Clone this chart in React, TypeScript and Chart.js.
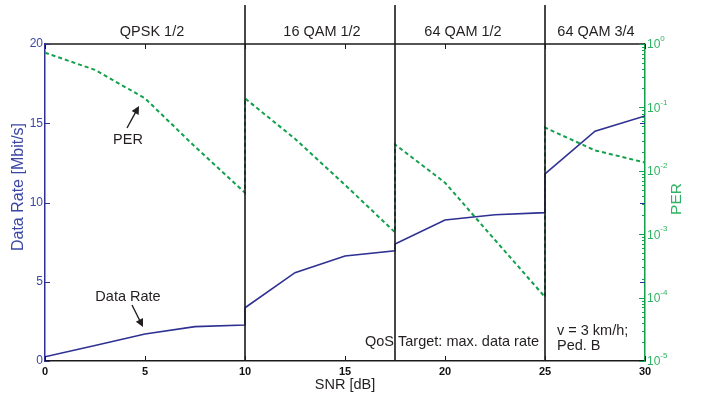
import React, { useEffect, useRef } from "react";
import { Chart, registerables } from "chart.js";

Chart.register(...registerables);

// SNR [dB] sample points (duplicated x where the modulation scheme switches)
const snr = [0, 2.5, 5, 7.5, 10, 10, 12.5, 15, 17.5, 17.5, 20, 22.5, 25, 25, 27.5, 30];
// Data rate [Mbit/s]
const dataRate = [0.27, 0.98, 1.7, 2.17, 2.27, 3.36, 5.57, 6.62, 6.96, 7.38, 8.9, 9.23, 9.36, 11.8, 14.5, 15.46];
// Packet error ratio
const per = [0.73, 0.39, 0.139, 0.024, 0.0045, 0.139, 0.032, 0.006, 0.00107, 0.026, 0.0065, 0.00081, 0.000102, 0.048, 0.021, 0.0135];

const switchPoints = [10, 17.5, 25];
const modeLabels = ["QPSK 1/2", "16 QAM 1/2", "64 QAM 1/2", "64 QAM 3/4"];
const modeLabelX = [5.35, 13.85, 20.9, 27.55];
const xTicks = [0, 5, 10, 15, 20, 25, 30];
const leftTicks = [0, 5, 10, 15, 20];
const perExponents = [0, -1, -2, -3, -4, -5];

const BLUE = "#2e3192";
const BLUE_TXT = "#3b47a3";
const GREEN = "#12a04c";
const GREEN_TXT = "#2fb463";
const TXT = "#231f20";
const FONT = "'Liberation Sans', Arial, Helvetica, sans-serif";

function arrow(ctx: CanvasRenderingContext2D, x1: number, y1: number, x2: number, y2: number) {
  const ang = Math.atan2(y2 - y1, x2 - x1);
  const hl = 8;
  const hw = 4;
  ctx.save();
  ctx.strokeStyle = TXT;
  ctx.fillStyle = TXT;
  ctx.lineWidth = 1.4;
  ctx.beginPath();
  ctx.moveTo(x1, y1);
  ctx.lineTo(x2 - Math.cos(ang) * hl * 0.8, y2 - Math.sin(ang) * hl * 0.8);
  ctx.stroke();
  ctx.beginPath();
  ctx.moveTo(x2, y2);
  ctx.lineTo(x2 - Math.cos(ang) * hl + Math.sin(ang) * hw, y2 - Math.sin(ang) * hl - Math.cos(ang) * hw);
  ctx.lineTo(x2 - Math.cos(ang) * hl - Math.sin(ang) * hw, y2 - Math.sin(ang) * hl + Math.cos(ang) * hw);
  ctx.closePath();
  ctx.fill();
  ctx.restore();
}

const decorPlugin = {
  id: "decor",
  afterDraw(chart: any) {
    const ctx: CanvasRenderingContext2D = chart.ctx;
    const { left, right, top, bottom } = chart.chartArea;
    const x = chart.scales.x;
    const y = chart.scales.y;
    const y2 = chart.scales.y2;
    ctx.save();

    // top border
    ctx.strokeStyle = "#1a1a1a";
    ctx.lineWidth = 1.5;
    ctx.beginPath();
    ctx.moveTo(left, top);
    ctx.lineTo(right, top);
    ctx.stroke();

    // x ticks (inner, top and bottom)
    ctx.lineWidth = 1;
    xTicks.forEach((v) => {
      const px = Math.round(x.getPixelForValue(v)) + 0.5;
      ctx.beginPath();
      ctx.moveTo(px, bottom);
      ctx.lineTo(px, bottom - 5);
      ctx.moveTo(px, top);
      ctx.lineTo(px, top + 5);
      ctx.stroke();
    });

    // left axis ticks (blue), mirrored on right
    ctx.strokeStyle = BLUE;
    leftTicks.forEach((v) => {
      const py = Math.round(y.getPixelForValue(v)) + 0.5;
      ctx.beginPath();
      ctx.moveTo(left, py);
      ctx.lineTo(left + 5, py);
      ctx.moveTo(right, py);
      ctx.lineTo(right - 5, py);
      ctx.stroke();
    });

    // right log axis ticks (green)
    ctx.strokeStyle = GREEN;
    perExponents.forEach((e) => {
      const py = Math.round(y2.getPixelForValue(Math.pow(10, e))) + 0.5;
      ctx.beginPath();
      ctx.moveTo(right, py);
      ctx.lineTo(right - 6, py);
      ctx.stroke();
      if (e > -5) {
        for (let m = 2; m <= 9; m++) {
          const pm = Math.round(y2.getPixelForValue(m * Math.pow(10, e - 1))) + 0.5;
          ctx.beginPath();
          ctx.moveTo(right, pm);
          ctx.lineTo(right - 3, pm);
          ctx.stroke();
        }
      }
    });

    // right tick labels 10^e
    ctx.fillStyle = GREEN_TXT;
    ctx.textBaseline = "middle";
    ctx.textAlign = "left";
    perExponents.forEach((e) => {
      const py = y2.getPixelForValue(Math.pow(10, e));
      ctx.font = `12px ${FONT}`;
      ctx.fillText("10", right + 2, py + 1);
      const w = ctx.measureText("10").width;
      ctx.font = `8px ${FONT}`;
      ctx.fillText(e === 0 ? "0" : "-" + Math.abs(e), right + 2 + w, py - 5);
    });

    // switching lines
    ctx.strokeStyle = "#1a1a1a";
    ctx.lineWidth = 1.6;
    switchPoints.forEach((v) => {
      const px = x.getPixelForValue(v);
      ctx.beginPath();
      ctx.moveTo(px, 5);
      ctx.lineTo(px, bottom);
      ctx.stroke();
    });

    // mode labels
    ctx.fillStyle = TXT;
    ctx.font = `14.5px ${FONT}`;
    ctx.textAlign = "center";
    ctx.textBaseline = "middle";
    modeLabels.forEach((t, i) => {
      ctx.fillText(t, x.getPixelForValue(modeLabelX[i]), 32);
    });

    // axis titles
    ctx.font = `14.5px ${FONT}`;
    ctx.fillText("SNR [dB]", (left + right) / 2, 385);
    ctx.save();
    ctx.translate(19, 187);
    ctx.rotate(-Math.PI / 2);
    ctx.fillStyle = BLUE_TXT;
    ctx.font = `16px ${FONT}`;
    ctx.fillText("Data Rate [Mbit/s]", 0, 0);
    ctx.restore();
    ctx.save();
    ctx.translate(677, 199);
    ctx.rotate(-Math.PI / 2);
    ctx.fillStyle = GREEN_TXT;
    ctx.font = `15.5px ${FONT}`;
    ctx.fillText("PER", 0, 0);
    ctx.restore();

    // annotations
    ctx.fillStyle = TXT;
    ctx.font = `14.5px ${FONT}`;
    ctx.textAlign = "center";
    ctx.fillText("PER", 128, 140);
    ctx.fillText("Data Rate", 128, 297);
    arrow(ctx, 127, 128, 139, 106);
    arrow(ctx, 132, 305, 143, 327);
    ctx.textAlign = "left";
    ctx.fillText("QoS Target: max. data rate", 365, 342);
    ctx.fillText("v = 3 km/h;", 557, 331);
    ctx.fillText("Ped. B", 557, 346);

    ctx.restore();
  },
};

export default function App() {
  const ref = useRef<HTMLCanvasElement | null>(null);

  useEffect(() => {
    if (!ref.current) return;
    const chart = new Chart(ref.current, {
      type: "line",
      data: {
        datasets: [
          {
            label: "Data Rate",
            data: snr.map((s, i) => ({ x: s, y: dataRate[i] })),
            borderColor: BLUE,
            borderWidth: 1.6,
            pointRadius: 0,
            yAxisID: "y",
            tension: 0,
          },
          {
            label: "PER",
            data: snr.map((s, i) => ({ x: s, y: per[i] })),
            borderColor: GREEN,
            borderWidth: 2,
            borderDash: [4, 3],
            pointRadius: 0,
            yAxisID: "y2",
            tension: 0,
          },
        ],
      },
      options: {
        responsive: false,
        animation: false,
        layout: { padding: { top: 44, left: 0, right: 0, bottom: 0 } },
        plugins: { legend: { display: false }, tooltip: { enabled: false } },
        scales: {
          x: {
            type: "linear",
            min: 0,
            max: 30,
            position: "bottom",
            afterFit: (s: any) => {
              s.height = 42;
            },
            afterBuildTicks: (s: any) => {
              s.ticks = xTicks.map((v) => ({ value: v }));
            },
            grid: { display: false, drawTicks: false, tickLength: 0 },
            border: { display: true, color: "#1a1a1a", width: 1.5 },
            ticks: { color: "#111", font: { size: 11, family: FONT, weight: "bold" }, padding: 4, maxRotation: 0 },
          },
          y: {
            type: "linear",
            min: 0,
            max: 20,
            position: "left",
            afterFit: (s: any) => {
              s.width = 45;
            },
            afterBuildTicks: (s: any) => {
              s.ticks = leftTicks.map((v) => ({ value: v }));
            },
            grid: { display: false, drawTicks: false, tickLength: 0 },
            border: { display: true, color: BLUE, width: 1.5 },
            ticks: { color: BLUE_TXT, font: { size: 12, family: FONT }, padding: 2 },
          },
          y2: {
            type: "logarithmic",
            min: 1e-5,
            max: 1,
            position: "right",
            afterFit: (s: any) => {
              s.width = 57;
            },
            grid: { display: false, drawTicks: false, tickLength: 0 },
            border: { display: true, color: GREEN, width: 1.5 },
            ticks: { display: false },
          },
        },
      },
      plugins: [decorPlugin],
    } as any);
    return () => chart.destroy();
  }, []);

  return (
    <div style={{ position: "absolute", left: 0, top: 0, width: 702, height: 403, background: "#fff" }}>
      <canvas ref={ref} width={702} height={403} style={{ display: "block" }} />
    </div>
  );
}
